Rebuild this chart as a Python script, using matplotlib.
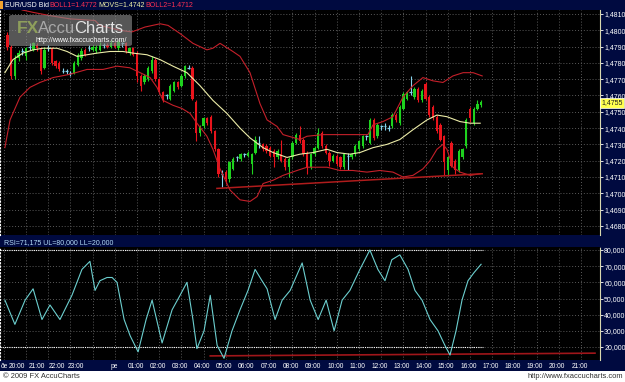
import numpy as np
import matplotlib
matplotlib.use('Agg')
import matplotlib.pyplot as plt
from matplotlib.patches import Rectangle, FancyBboxPatch

plt.rcParams['font.family'] = ['Liberation Sans', 'DejaVu Sans']

# 10 minute EUR/USD bars, Thursday 19:10 -> Friday 16:30
opens = [1.4797, 1.4790, 1.4772, 1.4783, 1.4787, 1.4784, 1.4790, 1.4788, 1.4791, 1.4789,
         1.4777, 1.4789, 1.4789, 1.4781, 1.4780, 1.4775, 1.4775, 1.4774, 1.4774, 1.4779,
         1.4783, 1.4788, 1.4789, 1.4788, 1.4787, 1.4788, 1.4791, 1.4791, 1.4790, 1.4792,
         1.4789, 1.4792, 1.4792, 1.4786, 1.4789, 1.4786, 1.4772, 1.4768, 1.4770, 1.4775,
         1.4782, 1.4770, 1.4762, 1.4760, 1.4758, 1.4763, 1.4768, 1.4766, 1.4772, 1.4777,
         1.4777, 1.4756, 1.4737, 1.4741, 1.4746, 1.4747, 1.4738, 1.4727, 1.4712, 1.4713,
         1.4709, 1.4715, 1.4722, 1.4721, 1.4724, 1.4723,
         1.4718, 1.4725, 1.4731, 1.4730, 1.4729, 1.4728, 1.4726, 1.4722, 1.4724, 1.4721,
         1.4716, 1.4722, 1.4731, 1.4736, 1.4733, 1.4725, 1.4716, 1.4724, 1.4728, 1.4737,
         1.4729, 1.4725, 1.4720, 1.4723, 1.4722, 1.4716, 1.4723, 1.4722, 1.4724, 1.4727,
         1.4729, 1.4735, 1.4731, 1.4745, 1.4735, 1.4741, 1.4741, 1.4740, 1.4741, 1.4748,
         1.4743, 1.4752, 1.4758, 1.4762, 1.4759, 1.4764, 1.4757, 1.4767, 1.4759, 1.4753,
         1.4747, 1.4742, 1.4735, 1.4714, 1.4731, 1.4720, 1.4714, 1.4722, 1.4729, 1.4752,
         1.4743, 1.4752, 1.4754]
closes = [1.4790, 1.4772, 1.4783, 1.4786, 1.4787, 1.4789, 1.4790, 1.4792, 1.4789, 1.4775,
          1.4788, 1.4789, 1.4780, 1.4778, 1.4776, 1.4775, 1.4775, 1.4774, 1.4780, 1.4785,
          1.4787, 1.4785, 1.4789, 1.4790, 1.4790, 1.4791, 1.4791, 1.4790, 1.4792, 1.4790,
          1.4793, 1.4792, 1.4787, 1.4789, 1.4785, 1.4772, 1.4766, 1.4772, 1.4777, 1.4782,
          1.4770, 1.4762, 1.4757, 1.4760, 1.4766, 1.4768, 1.4765, 1.4772, 1.4778, 1.4777,
          1.4758, 1.4737, 1.4741, 1.4746, 1.4743, 1.4738, 1.4727, 1.4712, 1.4712, 1.4709,
          1.4719, 1.4721, 1.4722, 1.4724, 1.4724, 1.4725,
          1.4724, 1.4733, 1.4731, 1.4727, 1.4726, 1.4723, 1.4722, 1.4726, 1.4720, 1.4716,
          1.4721, 1.4731, 1.4736, 1.4732, 1.4724, 1.4716, 1.4724, 1.4728, 1.4737, 1.4729,
          1.4725, 1.4720, 1.4723, 1.4718, 1.4716, 1.4724, 1.4723, 1.4724, 1.4729, 1.4732,
          1.4735, 1.4735, 1.4745, 1.4734, 1.4742, 1.4741, 1.4741, 1.4740, 1.4748, 1.4745,
          1.4753, 1.4761, 1.4762, 1.4762, 1.4764, 1.4757, 1.4763, 1.4758, 1.4748, 1.4746,
          1.4738, 1.4733, 1.4719, 1.4722, 1.4717, 1.4714, 1.4726, 1.4727, 1.4745, 1.4746,
          1.4752, 1.4755, 1.4756]
highs = [1.4799, 1.4791, 1.4785, 1.4788, 1.4789, 1.4790, 1.4792, 1.4793, 1.4792, 1.4790,
         1.4790, 1.4791, 1.4790, 1.4782, 1.4781, 1.4777, 1.4776, 1.4775, 1.4781, 1.4786,
         1.4789, 1.4789, 1.4791, 1.4791, 1.4791, 1.4793, 1.4792, 1.4792, 1.4794, 1.4793,
         1.4794, 1.4793, 1.4793, 1.4790, 1.4790, 1.4787, 1.4773, 1.4773, 1.4778, 1.4784,
         1.4783, 1.4771, 1.4763, 1.4761, 1.4767, 1.4769, 1.4769, 1.4773, 1.4779, 1.4779,
         1.4778, 1.4757, 1.4742, 1.4747, 1.4747, 1.4748, 1.4739, 1.4728, 1.4714, 1.4714,
         1.4720, 1.4722, 1.4723, 1.4725, 1.4725, 1.4726,
         1.4725, 1.4735, 1.4735, 1.4731, 1.4730, 1.4729, 1.4727, 1.4727, 1.4733, 1.4722,
         1.4722, 1.4732, 1.4737, 1.4741, 1.4734, 1.4726, 1.4725, 1.4729, 1.4740, 1.4738,
         1.4730, 1.4726, 1.4724, 1.4724, 1.4723, 1.4725, 1.4725, 1.4725, 1.4730, 1.4733,
         1.4736, 1.4736, 1.4746, 1.4746, 1.4743, 1.4742, 1.4743, 1.4742, 1.4749, 1.4749,
         1.4754, 1.4762, 1.4763, 1.4772, 1.4765, 1.4765, 1.4764, 1.4768, 1.4760, 1.4754,
         1.4748, 1.4743, 1.4736, 1.4723, 1.4732, 1.4721, 1.4727, 1.4728, 1.4746, 1.4753,
         1.4753, 1.4757, 1.4757]
lows = [1.4788, 1.4770, 1.4770, 1.4781, 1.4785, 1.4782, 1.4788, 1.4787, 1.4787, 1.4773,
        1.4776, 1.4787, 1.4779, 1.4777, 1.4775, 1.4774, 1.4773, 1.4772, 1.4773, 1.4778,
        1.4782, 1.4784, 1.4787, 1.4787, 1.4786, 1.4787, 1.4789, 1.4789, 1.4789, 1.4789,
        1.4788, 1.4790, 1.4786, 1.4785, 1.4784, 1.4768, 1.4763, 1.4767, 1.4769, 1.4774,
        1.4769, 1.4761, 1.4756, 1.4758, 1.4757, 1.4762, 1.4764, 1.4765, 1.4771, 1.4776,
        1.4757, 1.4732, 1.4735, 1.4740, 1.4742, 1.4737, 1.4726, 1.4710, 1.4704, 1.4706,
        1.4707, 1.4714, 1.4720, 1.4720, 1.4722, 1.4722,
        1.4712, 1.4724, 1.4728, 1.4726, 1.4725, 1.4722, 1.4716, 1.4721, 1.4719, 1.4714,
        1.4710, 1.4721, 1.4730, 1.4731, 1.4723, 1.4712, 1.4715, 1.4723, 1.4727, 1.4728,
        1.4724, 1.4717, 1.4719, 1.4717, 1.4715, 1.4715, 1.4714, 1.4721, 1.4723, 1.4726,
        1.4728, 1.4733, 1.4730, 1.4733, 1.4734, 1.4739, 1.4739, 1.4738, 1.4740, 1.4744,
        1.4742, 1.4751, 1.4757, 1.4760, 1.4758, 1.4756, 1.4756, 1.4757, 1.4747, 1.4745,
        1.4737, 1.4732, 1.4711, 1.4711, 1.4716, 1.4712, 1.4713, 1.4721, 1.4728, 1.4744,
        1.4742, 1.4751, 1.4753]

first_bar = -4 - 50 / 60   # hours from Friday 00:00
bar_step = 1 / 6

# Bollinger bands and moving average (hours, price)
upper_t = [-4.5, -4.18, -3.68, -2.92, -2.02, -0.89, -0.67, 0.23, 0.77, 1.36, 2.04, 2.40,
           2.94, 3.52, 4.15, 4.42, 4.74, 5.32, 5.64, 6.09, 6.54, 6.86, 7.31, 7.58, 8.34,
           8.66, 9.38, 10.14, 11.40, 11.63, 12.08, 12.53, 12.98, 13.43, 13.88, 14.33,
           14.78, 15.23, 15.69, 16.14, 16.55]
upper_v = [1.4816, 1.48125, 1.4811, 1.4809, 1.4807, 1.4806, 1.4803, 1.4800, 1.4799, 1.4802,
           1.4804, 1.4803, 1.4798, 1.4792, 1.4788, 1.4789, 1.4792, 1.4787, 1.4784, 1.4774,
           1.4755, 1.4745, 1.4741, 1.4736, 1.4733, 1.4735, 1.4736, 1.4736, 1.4736, 1.4742,
           1.4744, 1.4747, 1.4759, 1.4766, 1.4771, 1.4769, 1.4768, 1.4772, 1.4774, 1.4774,
           1.4772]
lower_t = [-4.95, -4.72, -4.27, -3.82, -3.37, -2.78, -2.02, -1.25, -0.53, 0.10, 0.68, 1.14,
           1.59, 1.90, 2.17, 2.62, 3.03, 3.39, 3.70, 4.15, 4.42, 4.74, 5.19, 5.64, 6.09,
           6.41, 6.68, 7.13, 7.58, 8.21, 8.66, 9.56, 10.14, 10.72, 11.36, 11.94, 12.53,
           12.98, 13.43, 13.88, 14.20, 14.51, 14.78, 14.96, 15.23, 15.55, 16.01, 16.46]
lower_v = [1.4728, 1.4745, 1.4759, 1.4765, 1.4768, 1.4771, 1.4773, 1.4776, 1.4776, 1.4778,
           1.4777, 1.4774, 1.4771, 1.4765, 1.4757, 1.4754, 1.4752, 1.4749, 1.4743, 1.4735,
           1.4727, 1.4715, 1.4702, 1.4696, 1.4695, 1.4698, 1.4706, 1.4708, 1.4711, 1.4714,
           1.4716, 1.4716, 1.4714, 1.4714, 1.4713, 1.4714, 1.4713, 1.4710, 1.4711, 1.4715,
           1.4720, 1.4727, 1.4730, 1.4727, 1.4716, 1.4713, 1.4711, 1.4712]
ma_t = [-4.95, -4.59, -4.14, -3.68, -3.23, -2.60, -2.15, -1.70, -1.25, -0.80, -0.22, 0.37,
        0.82, 1.45, 2.04, 2.62, 3.25, 3.84, 4.42, 5.05, 5.64, 6.09, 6.68, 7.13, 7.76,
        8.34, 8.93, 9.56, 10.01, 10.59, 11.04, 11.63, 12.26, 12.84, 13.43, 14.06, 14.51,
        14.96, 15.55, 16.01, 16.46]
ma_v = [1.4774, 1.4782, 1.4786, 1.4788, 1.4789, 1.4789, 1.4787, 1.4784, 1.4785, 1.4786,
        1.4787, 1.4787, 1.4786, 1.4785, 1.4782, 1.4778, 1.4774, 1.4766, 1.4757, 1.4749,
        1.4740, 1.4734, 1.4728, 1.4725, 1.4722, 1.4724, 1.4725, 1.4727, 1.4725, 1.4724,
        1.4725, 1.4728, 1.4730, 1.4733, 1.4739, 1.4745, 1.4748, 1.4747, 1.4744, 1.4743,
        1.4743]
trend_t = [4.60, 16.55]
trend_v = [1.4703, 1.4712]

# RSI (hours, value)
rsi_t = [-4.95, -4.50, -4.04, -3.68, -3.28, -2.92, -2.47, -1.93, -1.48, -1.12, -0.89, -0.67,
         -0.35, -0.12, 0.10, 0.42, 0.69, 1.05, 1.41, 1.68, 2.13, 2.58, 2.94, 3.25, 3.52,
         3.70, 4.02, 4.30, 4.61, 4.92, 5.28, 5.64, 6.00, 6.32, 6.63, 6.86, 7.22, 7.54, 7.90,
         8.44, 8.80, 9.16, 9.52, 9.88, 10.24, 10.59, 11.04, 11.49, 11.85, 12.17, 12.48,
         12.84, 13.21, 13.52, 13.84, 14.20, 14.56, 14.87, 15.10, 15.37, 15.64, 15.91,
         16.18, 16.50]
rsi_v = [49, 34, 49, 56, 37, 46, 37, 52, 68, 73, 55, 61, 63, 63, 60, 37, 27, 17, 37, 49,
         22.5, 43, 52, 60, 37, 19, 30, 52, 21, 13, 30, 43, 55, 68, 61, 56, 37, 49, 55, 72,
         49, 37, 49, 30, 49, 55, 68, 80, 68, 61, 74, 77, 68, 55, 49, 37, 30, 21, 15, 30,
         49, 61, 66, 71.175]
rsi_line_t = [4.30, 21.63]
rsi_line_v = [14.5, 16.2]

price_ticks = [1.4680, 1.4690, 1.4700, 1.4710, 1.4720, 1.4730, 1.4740, 1.4750, 1.4760,
               1.4770, 1.4780, 1.4790, 1.4800, 1.4810]
rsi_ticks = [20, 30, 40, 50, 60, 70, 80]
time_labels = ['ðe', '20:00', '21:00', '22:00', '23:00', 'pe'] + \
              ['%02d:00' % h for h in range(1, 22)]
time_pos = [-4.99, -4.41, -3.50, -2.63, -1.75, -0.04] + [h - 0.07 for h in range(1, 22)]

navy = '#000a40'
W, H = 625, 382


def fx(px):
    return px / W


def fy(py):
    return 1 - py / H


fig = plt.figure(figsize=(6.25, 3.82), dpi=100, facecolor=navy)
ax = fig.add_axes([0, fy(235), fx(600), (235 - 10) / H], facecolor='black')
ax2 = fig.add_axes([0, fy(360), fx(600), (360 - 247) / H], facecolor='black')

xlim = (-5.171, 21.856)
grid_kw = dict(color='#5a5a5a', linestyle=(0, (1, 2)), linewidth=0.7)
for a in (ax, ax2):
    a.set_xlim(*xlim)
    a.set_xticks(range(-5, 22), minor=True)
    a.grid(True, which='minor', axis='x', **grid_kw)
    a.grid(True, which='major', axis='y', **grid_kw)
    a.set_axisbelow(True)
    a.yaxis.tick_right()
    a.tick_params(axis='y', colors='white', labelsize=5.0, length=2, pad=1, width=0.6)
    a.tick_params(axis='x', which='both', length=0)
    for side in ('top', 'bottom'):
        a.spines[side].set_visible(False)
    a.spines['left'].set_color('white')
    a.spines['left'].set_linestyle((0, (1, 2)))
    a.spines['right'].set_color('#d8d8b0')
    a.spines['right'].set_linestyle((0, (1, 1)))

# main price panel
ax.set_ylim(1.467442, 1.481245)
ax.set_yticks(price_ticks)
ax.set_yticklabels([('%.4f' % p).replace('.', ',') for p in price_ticks])
ax.set_xticks([])

o = np.array(opens)
c = np.array(closes)
t = first_bar + np.arange(len(o)) * bar_step
cols = np.where(c > o, '#1ed21e', np.where(c < o, '#e8141c', '#86d4ee'))
ax.vlines(t, lows, highs, colors=cols, linewidth=0.8, zorder=3)
ax.bar(t, np.abs(c - o), bottom=np.minimum(o, c), width=0.105, color=cols, zorder=4)
doji = c == o
ax.hlines(c[doji], t[doji] - 0.06, t[doji] + 0.06, colors='#86d4ee', linewidth=0.9, zorder=4)

ax.plot(upper_t, upper_v, color='#c4202a', lw=0.8, zorder=5)
ax.plot(lower_t, lower_v, color='#c4202a', lw=0.8, zorder=5)
ax.plot(ma_t, ma_v, color='#ececa8', lw=0.8, zorder=5)
ax.plot(trend_t, trend_v, color='#b01c1c', lw=1.1, zorder=5)

# RSI panel
ax2.set_ylim(11.97, 81.86)
ax2.set_yticks(rsi_ticks)
ax2.set_yticklabels(['%d,000' % v for v in rsi_ticks])
ax2.set_xticks(time_pos)
ax2.set_xticklabels(time_labels)
ax2.tick_params(axis='x', colors='white', labelsize=4.8, pad=2)
ax2.plot(rsi_t, rsi_v, color='#6ccfcf', lw=0.8, zorder=4)
ax2.hlines([80, 20], xlim[0], 16.6, colors='white', linestyles=(0, (1, 1)), lw=0.8, zorder=3)
ax2.plot(rsi_line_t, rsi_line_v, color='#a0161a', lw=1.2, zorder=3)

# headers
fig.patches.append(Rectangle((0, fy(8.5)), fx(2.5), 7 / H, transform=fig.transFigure,
                             facecolor='#f0a030', edgecolor='none'))
hdr = [(5, 'EUR/USD Bid', 'white'), (49.5, 'BOLL1=1.4772', '#ff3052'),
       (98, 'MOVS=1.4742', '#f0f0a8'), (145.5, 'BOLL2=1.4712', '#ff3052')]
for x0, s, col in hdr:
    fig.text(fx(x0), fy(5.2), s, color=col, fontsize=5.0, va='center', ha='left')
fig.text(fx(4), fy(242.5), 'RSI=71,175 UL=80,000 LL=20,000', color='#b4dcf8',
         fontsize=5.0, va='center', ha='left')

# current price marker
fig.text(fx(612), fy(103), '1,4755', color='#202020', fontsize=5.0, va='center',
         ha='center', bbox=dict(boxstyle='square,pad=0.15', facecolor='#ffff50',
                                edgecolor='white', linewidth=0.5))

# watermark
fig.patches.append(FancyBboxPatch((fx(9), fy(46)), fx(123), 31 / H,
                                  boxstyle='round,pad=0,rounding_size=0.005',
                                  transform=fig.transFigure, facecolor='#8c8c8c',
                                  edgecolor='none', alpha=0.62, zorder=10))
fig.text(fx(17), fy(33), 'FX', color='#8e9e5c', fontsize=12.5, fontweight='bold',
         va='baseline', ha='left', zorder=11)
fig.text(fx(38), fy(33), 'Accu', color='#a8a8a8', fontsize=12,
         va='baseline', ha='left', zorder=11)
fig.text(fx(123), fy(33), 'Charts', color='#e4e4e4', fontsize=12,
         va='baseline', ha='right', zorder=11)
fig.text(fx(35), fy(40), 'http://www.fxaccucharts.com/', color='white', fontsize=5.0,
         va='center', ha='left', zorder=11)

# footer strip
fig.patches.append(Rectangle((0, 0), 1, 11 / H, transform=fig.transFigure,
                             facecolor='white', edgecolor='none'))
fig.text(fx(3), fy(376.5), '© 2009 FX AccuCharts', color='#303030', fontsize=5.4,
         va='center', ha='left')
fig.text(fx(623), fy(376.5), 'http://www.fxaccucharts.com', color='#303030', fontsize=5.4,
         va='center', ha='right')

fig.savefig('out.png', dpi=100, facecolor=navy)
